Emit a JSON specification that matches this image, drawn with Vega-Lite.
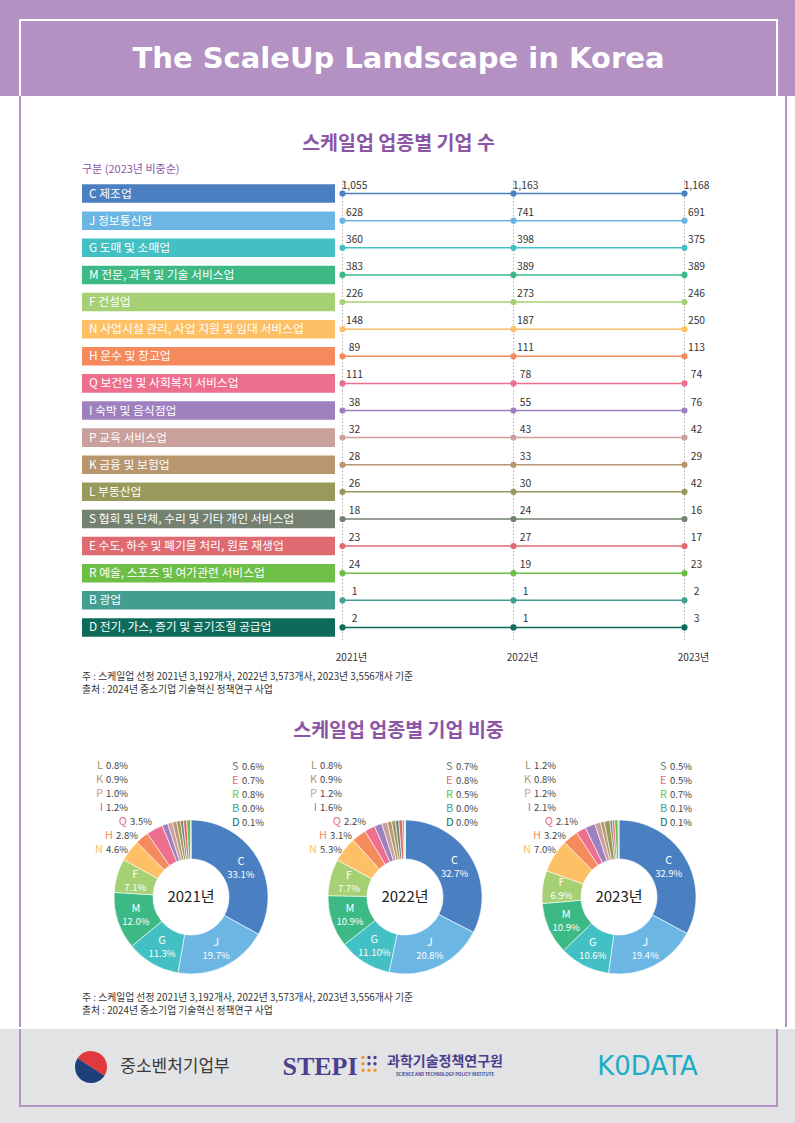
{
"$schema":"https://vega.github.io/schema/vega-lite/v6.json",
"padding":0,
"background":"#ffffff",
"spacing":0,
"resolve":{"scale":{"theta":"independent"}},
"config":{"view":{"stroke":null},"concat":{"spacing":0},"font":"Noto Sans CJK KR"},
"datasets":{
"ind":[
{"code":"C","label":"C 제조업"},
{"code":"J","label":"J 정보통신업"},
{"code":"G","label":"G 도매 및 소매업"},
{"code":"M","label":"M 전문, 과학 및 기술 서비스업"},
{"code":"F","label":"F 건설업"},
{"code":"N","label":"N 사업시설 관리, 사업 지원 및 임대 서비스업"},
{"code":"H","label":"H 운수 및 창고업"},
{"code":"Q","label":"Q 보건업 및 사회복지 서비스업"},
{"code":"I","label":"I 숙박 및 음식점업"},
{"code":"P","label":"P 교육 서비스업"},
{"code":"K","label":"K 금융 및 보험업"},
{"code":"L","label":"L 부동산업"},
{"code":"S","label":"S 협회 및 단체, 수리 및 기타 개인 서비스업"},
{"code":"E","label":"E 수도, 하수 및 폐기물 처리, 원료 재생업"},
{"code":"R","label":"R 예술, 스포츠 및 여가관련 서비스업"},
{"code":"B","label":"B 광업"},
{"code":"D","label":"D 전기, 가스, 증기 및 공기조절 공급업"}
],
"counts":[
{"code":"C","year":"2021년","value":1055},{"code":"C","year":"2022년","value":1163},{"code":"C","year":"2023년","value":1168},
{"code":"J","year":"2021년","value":628},{"code":"J","year":"2022년","value":741},{"code":"J","year":"2023년","value":691},
{"code":"G","year":"2021년","value":360},{"code":"G","year":"2022년","value":398},{"code":"G","year":"2023년","value":375},
{"code":"M","year":"2021년","value":383},{"code":"M","year":"2022년","value":389},{"code":"M","year":"2023년","value":389},
{"code":"F","year":"2021년","value":226},{"code":"F","year":"2022년","value":273},{"code":"F","year":"2023년","value":246},
{"code":"N","year":"2021년","value":148},{"code":"N","year":"2022년","value":187},{"code":"N","year":"2023년","value":250},
{"code":"H","year":"2021년","value":89},{"code":"H","year":"2022년","value":111},{"code":"H","year":"2023년","value":113},
{"code":"Q","year":"2021년","value":111},{"code":"Q","year":"2022년","value":78},{"code":"Q","year":"2023년","value":74},
{"code":"I","year":"2021년","value":38},{"code":"I","year":"2022년","value":55},{"code":"I","year":"2023년","value":76},
{"code":"P","year":"2021년","value":32},{"code":"P","year":"2022년","value":43},{"code":"P","year":"2023년","value":42},
{"code":"K","year":"2021년","value":28},{"code":"K","year":"2022년","value":33},{"code":"K","year":"2023년","value":29},
{"code":"L","year":"2021년","value":26},{"code":"L","year":"2022년","value":30},{"code":"L","year":"2023년","value":42},
{"code":"S","year":"2021년","value":18},{"code":"S","year":"2022년","value":24},{"code":"S","year":"2023년","value":16},
{"code":"E","year":"2021년","value":23},{"code":"E","year":"2022년","value":27},{"code":"E","year":"2023년","value":17},
{"code":"R","year":"2021년","value":24},{"code":"R","year":"2022년","value":19},{"code":"R","year":"2023년","value":23},
{"code":"B","year":"2021년","value":1},{"code":"B","year":"2022년","value":1},{"code":"B","year":"2023년","value":2},
{"code":"D","year":"2021년","value":2},{"code":"D","year":"2022년","value":1},{"code":"D","year":"2023년","value":3}
],
"share":[
{"year":"2021년","code":"C","rank":1,"pct":33.1,"t":"33.1%"},{"year":"2021년","code":"J","rank":2,"pct":19.7,"t":"19.7%"},{"year":"2021년","code":"G","rank":3,"pct":11.3,"t":"11.3%"},{"year":"2021년","code":"M","rank":4,"pct":12.0,"t":"12.0%"},{"year":"2021년","code":"F","rank":5,"pct":7.1,"t":"7.1%"},{"year":"2021년","code":"N","rank":6,"pct":4.6,"t":"4.6%"},{"year":"2021년","code":"H","rank":7,"pct":2.8,"t":"2.8%"},{"year":"2021년","code":"Q","rank":8,"pct":3.5,"t":"3.5%"},{"year":"2021년","code":"I","rank":9,"pct":1.2,"t":"1.2%"},{"year":"2021년","code":"P","rank":10,"pct":1.0,"t":"1.0%"},{"year":"2021년","code":"K","rank":11,"pct":0.9,"t":"0.9%"},{"year":"2021년","code":"L","rank":12,"pct":0.8,"t":"0.8%"},{"year":"2021년","code":"S","rank":13,"pct":0.6,"t":"0.6%"},{"year":"2021년","code":"E","rank":14,"pct":0.7,"t":"0.7%"},{"year":"2021년","code":"R","rank":15,"pct":0.8,"t":"0.8%"},{"year":"2021년","code":"B","rank":16,"pct":0.0,"t":"0.0%"},{"year":"2021년","code":"D","rank":17,"pct":0.1,"t":"0.1%"},
{"year":"2022년","code":"C","rank":1,"pct":32.7,"t":"32.7%"},{"year":"2022년","code":"J","rank":2,"pct":20.8,"t":"20.8%"},{"year":"2022년","code":"G","rank":3,"pct":11.1,"t":"11.10%"},{"year":"2022년","code":"M","rank":4,"pct":10.9,"t":"10.9%"},{"year":"2022년","code":"F","rank":5,"pct":7.7,"t":"7.7%"},{"year":"2022년","code":"N","rank":6,"pct":5.3,"t":"5.3%"},{"year":"2022년","code":"H","rank":7,"pct":3.1,"t":"3.1%"},{"year":"2022년","code":"Q","rank":8,"pct":2.2,"t":"2.2%"},{"year":"2022년","code":"I","rank":9,"pct":1.6,"t":"1.6%"},{"year":"2022년","code":"P","rank":10,"pct":1.2,"t":"1.2%"},{"year":"2022년","code":"K","rank":11,"pct":0.9,"t":"0.9%"},{"year":"2022년","code":"L","rank":12,"pct":0.8,"t":"0.8%"},{"year":"2022년","code":"S","rank":13,"pct":0.7,"t":"0.7%"},{"year":"2022년","code":"E","rank":14,"pct":0.8,"t":"0.8%"},{"year":"2022년","code":"R","rank":15,"pct":0.5,"t":"0.5%"},{"year":"2022년","code":"B","rank":16,"pct":0.0,"t":"0.0%"},{"year":"2022년","code":"D","rank":17,"pct":0.0,"t":"0.0%"},
{"year":"2023년","code":"C","rank":1,"pct":32.9,"t":"32.9%"},{"year":"2023년","code":"J","rank":2,"pct":19.4,"t":"19.4%"},{"year":"2023년","code":"G","rank":3,"pct":10.6,"t":"10.6%"},{"year":"2023년","code":"M","rank":4,"pct":10.9,"t":"10.9%"},{"year":"2023년","code":"F","rank":5,"pct":6.9,"t":"6.9%"},{"year":"2023년","code":"N","rank":6,"pct":7.0,"t":"7.0%"},{"year":"2023년","code":"H","rank":7,"pct":3.2,"t":"3.2%"},{"year":"2023년","code":"Q","rank":8,"pct":2.1,"t":"2.1%"},{"year":"2023년","code":"I","rank":9,"pct":2.1,"t":"2.1%"},{"year":"2023년","code":"P","rank":10,"pct":1.2,"t":"1.2%"},{"year":"2023년","code":"K","rank":11,"pct":0.8,"t":"0.8%"},{"year":"2023년","code":"L","rank":12,"pct":1.2,"t":"1.2%"},{"year":"2023년","code":"S","rank":13,"pct":0.5,"t":"0.5%"},{"year":"2023년","code":"E","rank":14,"pct":0.5,"t":"0.5%"},{"year":"2023년","code":"R","rank":15,"pct":0.7,"t":"0.7%"},{"year":"2023년","code":"B","rank":16,"pct":0.1,"t":"0.1%"},{"year":"2023년","code":"D","rank":17,"pct":0.1,"t":"0.1%"}
],
"notes":[{"lines":["주 : 스케일업 선정 2021년 3,192개사, 2022년 3,573개사, 2023년 3,556개사 기준","출처 : 2024년 중소기업 기술혁신 정책연구 사업"]}]
},
"vconcat":[
{"width":795,"height":19,"data":{"values":[]},"mark":"point","view":{"fill":"#b491c3"}},
{"spacing":0,"hconcat":[
 {"width":19,"height":2,"data":{"values":[]},"mark":"point","view":{"fill":"#b491c3"}},
 {"width":759,"height":2,"data":{"values":[]},"mark":"point","view":{"fill":"#ffffff"}},
 {"width":17,"height":2,"data":{"values":[]},"mark":"point","view":{"fill":"#b491c3"}}
]},
{"spacing":0,"hconcat":[
 {"width":19,"height":75,"data":{"values":[]},"mark":"point","view":{"fill":"#b491c3"}},
 {"width":2,"height":75,"data":{"values":[]},"mark":"point","view":{"fill":"#ffffff"}},
 {"width":755,"height":75,"view":{"fill":"#b491c3"},"data":{"values":[{"t":"The ScaleUp Landscape in Korea"}]},
  "mark":{"type":"text","font":"DejaVu Sans","fontSize":29,"fontWeight":"bold","color":"#ffffff"},
  "encoding":{"text":{"field":"t"}}},
 {"width":2,"height":75,"data":{"values":[]},"mark":"point","view":{"fill":"#ffffff"}},
 {"width":17,"height":75,"data":{"values":[]},"mark":"point","view":{"fill":"#b491c3"}}
]},
{"spacing":0,"hconcat":[
 {"width":19,"height":931,"data":{"values":[]},"mark":"point"},
 {"width":2,"height":931,"data":{"values":[]},"mark":"point","view":{"fill":"#b491c3"}},
 {"spacing":0,"vconcat":[
  {"width":755,"height":32,"data":{"values":[]},"mark":"point"},
  {"width":755,"height":32,"data":{"values":[{"t":"스케일업 업종별 기업 수"}]},
   "mark":{"type":"text","fontSize":19.5,"fontWeight":"bold","color":"#8c55a6"},
   "encoding":{"text":{"field":"t"}}},
  {"spacing":0,"hconcat":[
   {"width":61,"height":19,"data":{"values":[]},"mark":"point"},
   {"width":694,"height":19,"data":{"values":[{"t":"구분 (2023년 비중순)"}]},
    "mark":{"type":"text","align":"left","fontSize":11,"color":"#8c55a6"},
    "encoding":{"text":{"field":"t"},"x":{"datum":0,"type":"quantitative","scale":{"domain":[0,1]},"axis":null}}}
  ]},
  {"spacing":0,"hconcat":[
   {"width":61,"height":461,"data":{"values":[]},"mark":"point"},
   {"width":253,"height":461,"data":{"name":"ind"},
    "encoding":{
     "y":{"field":"code","type":"nominal","sort":["C","J","G","M","F","N","H","Q","I","P","K","L","S","E","R","B","D"],"scale":{"paddingInner":0.317,"paddingOuter":0.1585,"round":false},"axis":null},
     "x":{"datum":0,"type":"quantitative","scale":{"domain":[0,1]},"axis":null}},
    "layer":[
     {"mark":{"type":"rect"},"encoding":{"x2":{"datum":1},
       "color":{"field":"code","type":"nominal","scale":{"domain":["C","J","G","M","F","N","H","Q","I","P","K","L","S","E","R","B","D"],"range":["#4a7fc1","#6cb6e4","#42c0c3","#3cb985","#a5d174","#fdc066","#f58a5c","#ee6e8e","#9d80bd","#c9a09b","#b8966e","#989a5b","#748070","#e06a72","#6dbf46","#439e8f","#0e6b5a"]},"legend":null}}},
     {"mark":{"type":"text","align":"left","dx":7,"fontSize":11.8,"color":"#ffffff"},"encoding":{"text":{"field":"label"}}}
    ]},
   {"width":385,"height":461,"data":{"name":"counts"},
    "layer":[
     {"transform":[{"aggregate":[{"op":"count","as":"n"}],"groupby":["year"]}],
      "mark":{"type":"rule","strokeDash":[1.5,2],"color":"#b0b0b0","strokeWidth":1},
      "encoding":{"x":{"field":"year","type":"ordinal","scale":{"type":"point","padding":0.1257,"align":0.1744,"round":false},"axis":null}}},
     {"mark":{"type":"line","strokeWidth":1.5},
      "encoding":{"x":{"field":"year","type":"ordinal","axis":null},
       "y":{"field":"code","type":"nominal","sort":["C","J","G","M","F","N","H","Q","I","P","K","L","S","E","R","B","D"],"scale":{"type":"point","padding":0.5,"round":false},"axis":null},
       "color":{"field":"code","type":"nominal","scale":{"domain":["C","J","G","M","F","N","H","Q","I","P","K","L","S","E","R","B","D"],"range":["#4a7fc1","#6cb6e4","#42c0c3","#3cb985","#a5d174","#fdc066","#f58a5c","#ee6e8e","#9d80bd","#c9a09b","#b8966e","#989a5b","#748070","#e06a72","#6dbf46","#439e8f","#0e6b5a"]},"legend":null}}},
     {"mark":{"type":"point","filled":true,"size":38,"opacity":1},
      "encoding":{"x":{"field":"year","type":"ordinal","axis":null},
       "y":{"field":"code","type":"nominal","sort":["C","J","G","M","F","N","H","Q","I","P","K","L","S","E","R","B","D"],"axis":null},
       "color":{"field":"code","type":"nominal","legend":null}}},
     {"mark":{"type":"text","dx":12,"dy":-8,"fontSize":10.3,"color":"#333333"},
      "encoding":{"x":{"field":"year","type":"ordinal","axis":null},
       "y":{"field":"code","type":"nominal","sort":["C","J","G","M","F","N","H","Q","I","P","K","L","S","E","R","B","D"],"axis":null},
       "text":{"field":"value","type":"quantitative","format":","}}}
    ]},
   {"width":56,"height":461,"data":{"values":[]},"mark":"point"}
  ]},
  {"spacing":0,"hconcat":[
   {"width":314,"height":28,"data":{"values":[]},"mark":"point"},
   {"width":385,"height":28,"data":{"name":"counts"},
    "transform":[{"aggregate":[{"op":"count","as":"n"}],"groupby":["year"]}],
    "mark":{"type":"text","fontSize":10,"color":"#333333","dy":2},
    "encoding":{"x":{"field":"year","type":"ordinal","scale":{"type":"point","padding":0.1257,"align":0.1744,"round":false},"axis":null},"text":{"field":"year"}}},
   {"width":56,"height":28,"data":{"values":[]},"mark":"point"}
  ]},
  {"spacing":0,"hconcat":[
   {"width":61,"height":32,"data":{"values":[]},"mark":"point"},
   {"width":694,"height":32,"data":{"name":"notes"},
    "mark":{"type":"text","align":"left","baseline":"top","fontSize":9.8,"lineHeight":12.5,"color":"#333333","dy":2},
    "encoding":{"text":{"field":"lines"},
     "x":{"datum":0,"type":"quantitative","scale":{"domain":[0,1]},"axis":null},
     "y":{"datum":1,"type":"quantitative","scale":{"domain":[0,1]},"axis":null}}}
  ]},
  {"width":755,"height":54,"data":{"values":[{"t":"스케일업 업종별 기업 비중"}]},
   "mark":{"type":"text","fontSize":19.5,"fontWeight":"bold","color":"#8c55a6","dy":2},
   "encoding":{"text":{"field":"t"}}},
  {"spacing":0,"resolve":{"scale":{"theta":"independent"}},"hconcat":[
   {"width":63,"height":236,"data":{"values":[]},"mark":"point"},
   {"width":214,"height":236,"data":{"name":"share"},
    "transform":[{"filter":{"field":"year","equal":"2021년"}}],
    "resolve":{"scale":{"y":"independent"}},
    "layer":[
     {"mark":{"type":"arc","outerRadius":77,"innerRadius":38,"stroke":"#ffffff","strokeWidth":0.6},
      "encoding":{"theta":{"field":"pct","type":"quantitative","stack":true},"order":{"field":"rank","type":"quantitative"},
       "color":{"field":"code","type":"nominal","legend":null},
       "y":{"datum":0,"type":"quantitative","scale":{"domain":[-95,141]},"axis":null}}},
     {"mark":{"type":"text","radius":58,"dy":-6,"fontSize":11,"color":"#ffffff"},
      "encoding":{"theta":{"field":"pct","type":"quantitative","stack":true},"order":{"field":"rank","type":"quantitative"},
       "y":{"datum":0,"type":"quantitative","scale":{"domain":[-95,141]},"axis":null},"text":{"field":"code"},
       "opacity":{"condition":{"test":"indexof(['C','J','G','M','F'], datum.code) >= 0","value":1},"value":0}}},
     {"mark":{"type":"text","radius":58,"dy":7,"fontSize":9.5,"color":"#ffffff"},
      "encoding":{"theta":{"field":"pct","type":"quantitative","stack":true},"order":{"field":"rank","type":"quantitative"},
       "y":{"datum":0,"type":"quantitative","scale":{"domain":[-95,141]},"axis":null},"text":{"field":"t"},
       "opacity":{"condition":{"test":"indexof(['C','J','G','M','F'], datum.code) >= 0","value":1},"value":0}}},
     {"transform":[{"filter":{"field":"code","equal":"C"}}],"mark":{"type":"text","fontSize":15,"color":"#222222"},
      "encoding":{"y":{"datum":0,"type":"quantitative","scale":{"domain":[-95,141]},"axis":null},"text":{"field":"year"}}},
     {"transform":[{"filter":{"field":"code","oneOf":["L","K","P","I","N"]}}],"mark":{"type":"text","align":"right","dx":-88,"fontSize":11},
      "encoding":{"y":{"field":"code","type":"nominal","scale":{"type":"point","domain":["L","K","P","I","Q","H","N","C","J","G","M","F","S","E","R","B","D"],"padding":0.4,"align":0.893,"round":false},"axis":null},"text":{"field":"code"},"color":{"field":"code","type":"nominal","legend":null}}},
     {"transform":[{"filter":{"field":"code","oneOf":["L","K","P","I","N"]}}],"mark":{"type":"text","align":"right","dx":-63,"fontSize":9.5,"color":"#444444"},
      "encoding":{"y":{"field":"code","type":"nominal","scale":{"type":"point","domain":["L","K","P","I","Q","H","N","C","J","G","M","F","S","E","R","B","D"],"padding":0.4,"align":0.893,"round":false},"axis":null},"text":{"field":"t"}}},
     {"transform":[{"filter":{"field":"code","equal":"Q"}}],"mark":{"type":"text","align":"right","dx":-64,"fontSize":11},
      "encoding":{"y":{"field":"code","type":"nominal","scale":{"type":"point","domain":["L","K","P","I","Q","H","N","C","J","G","M","F","S","E","R","B","D"],"padding":0.4,"align":0.893,"round":false},"axis":null},"text":{"field":"code"},"color":{"field":"code","type":"nominal","legend":null}}},
     {"transform":[{"filter":{"field":"code","equal":"Q"}}],"mark":{"type":"text","align":"right","dx":-39,"fontSize":9.5,"color":"#444444"},
      "encoding":{"y":{"field":"code","type":"nominal","scale":{"type":"point","domain":["L","K","P","I","Q","H","N","C","J","G","M","F","S","E","R","B","D"],"padding":0.4,"align":0.893,"round":false},"axis":null},"text":{"field":"t"}}},
     {"transform":[{"filter":{"field":"code","equal":"H"}}],"mark":{"type":"text","align":"right","dx":-78,"fontSize":11},
      "encoding":{"y":{"field":"code","type":"nominal","scale":{"type":"point","domain":["L","K","P","I","Q","H","N","C","J","G","M","F","S","E","R","B","D"],"padding":0.4,"align":0.893,"round":false},"axis":null},"text":{"field":"code"},"color":{"field":"code","type":"nominal","legend":null}}},
     {"transform":[{"filter":{"field":"code","equal":"H"}}],"mark":{"type":"text","align":"right","dx":-53,"fontSize":9.5,"color":"#444444"},
      "encoding":{"y":{"field":"code","type":"nominal","scale":{"type":"point","domain":["L","K","P","I","Q","H","N","C","J","G","M","F","S","E","R","B","D"],"padding":0.4,"align":0.893,"round":false},"axis":null},"text":{"field":"t"}}},
     {"transform":[{"filter":{"field":"code","oneOf":["S","E","R","B","D"]}}],"mark":{"type":"text","align":"left","dx":41,"fontSize":11},
      "encoding":{"y":{"field":"code","type":"nominal","scale":{"type":"point","domain":["S","E","R","B","D","C","J","G","M","F","N","H","Q","I","P","K","L"],"padding":0.4,"align":1,"round":false},"axis":null},"text":{"field":"code"},"color":{"field":"code","type":"nominal","legend":null}}},
     {"transform":[{"filter":{"field":"code","oneOf":["S","E","R","B","D"]}}],"mark":{"type":"text","align":"left","dx":51,"fontSize":9.5,"color":"#444444"},
      "encoding":{"y":{"field":"code","type":"nominal","scale":{"type":"point","domain":["S","E","R","B","D","C","J","G","M","F","N","H","Q","I","P","K","L"],"padding":0.4,"align":1,"round":false},"axis":null},"text":{"field":"t"}}}
    ]},
   {"width":214,"height":236,"data":{"name":"share"},
    "transform":[{"filter":{"field":"year","equal":"2022년"}}],
    "resolve":{"scale":{"y":"independent"}},
    "layer":[
     {"mark":{"type":"arc","outerRadius":77,"innerRadius":38,"stroke":"#ffffff","strokeWidth":0.6},
      "encoding":{"theta":{"field":"pct","type":"quantitative","stack":true},"order":{"field":"rank","type":"quantitative"},
       "color":{"field":"code","type":"nominal","legend":null},
       "y":{"datum":0,"type":"quantitative","scale":{"domain":[-95,141]},"axis":null}}},
     {"mark":{"type":"text","radius":58,"dy":-6,"fontSize":11,"color":"#ffffff"},
      "encoding":{"theta":{"field":"pct","type":"quantitative","stack":true},"order":{"field":"rank","type":"quantitative"},
       "y":{"datum":0,"type":"quantitative","scale":{"domain":[-95,141]},"axis":null},"text":{"field":"code"},
       "opacity":{"condition":{"test":"indexof(['C','J','G','M','F'], datum.code) >= 0","value":1},"value":0}}},
     {"mark":{"type":"text","radius":58,"dy":7,"fontSize":9.5,"color":"#ffffff"},
      "encoding":{"theta":{"field":"pct","type":"quantitative","stack":true},"order":{"field":"rank","type":"quantitative"},
       "y":{"datum":0,"type":"quantitative","scale":{"domain":[-95,141]},"axis":null},"text":{"field":"t"},
       "opacity":{"condition":{"test":"indexof(['C','J','G','M','F'], datum.code) >= 0","value":1},"value":0}}},
     {"transform":[{"filter":{"field":"code","equal":"C"}}],"mark":{"type":"text","fontSize":15,"color":"#222222"},
      "encoding":{"y":{"datum":0,"type":"quantitative","scale":{"domain":[-95,141]},"axis":null},"text":{"field":"year"}}},
     {"transform":[{"filter":{"field":"code","oneOf":["L","K","P","I","N"]}}],"mark":{"type":"text","align":"right","dx":-88,"fontSize":11},
      "encoding":{"y":{"field":"code","type":"nominal","scale":{"type":"point","domain":["L","K","P","I","Q","H","N","C","J","G","M","F","S","E","R","B","D"],"padding":0.4,"align":0.893,"round":false},"axis":null},"text":{"field":"code"},"color":{"field":"code","type":"nominal","legend":null}}},
     {"transform":[{"filter":{"field":"code","oneOf":["L","K","P","I","N"]}}],"mark":{"type":"text","align":"right","dx":-63,"fontSize":9.5,"color":"#444444"},
      "encoding":{"y":{"field":"code","type":"nominal","scale":{"type":"point","domain":["L","K","P","I","Q","H","N","C","J","G","M","F","S","E","R","B","D"],"padding":0.4,"align":0.893,"round":false},"axis":null},"text":{"field":"t"}}},
     {"transform":[{"filter":{"field":"code","equal":"Q"}}],"mark":{"type":"text","align":"right","dx":-64,"fontSize":11},
      "encoding":{"y":{"field":"code","type":"nominal","scale":{"type":"point","domain":["L","K","P","I","Q","H","N","C","J","G","M","F","S","E","R","B","D"],"padding":0.4,"align":0.893,"round":false},"axis":null},"text":{"field":"code"},"color":{"field":"code","type":"nominal","legend":null}}},
     {"transform":[{"filter":{"field":"code","equal":"Q"}}],"mark":{"type":"text","align":"right","dx":-39,"fontSize":9.5,"color":"#444444"},
      "encoding":{"y":{"field":"code","type":"nominal","scale":{"type":"point","domain":["L","K","P","I","Q","H","N","C","J","G","M","F","S","E","R","B","D"],"padding":0.4,"align":0.893,"round":false},"axis":null},"text":{"field":"t"}}},
     {"transform":[{"filter":{"field":"code","equal":"H"}}],"mark":{"type":"text","align":"right","dx":-78,"fontSize":11},
      "encoding":{"y":{"field":"code","type":"nominal","scale":{"type":"point","domain":["L","K","P","I","Q","H","N","C","J","G","M","F","S","E","R","B","D"],"padding":0.4,"align":0.893,"round":false},"axis":null},"text":{"field":"code"},"color":{"field":"code","type":"nominal","legend":null}}},
     {"transform":[{"filter":{"field":"code","equal":"H"}}],"mark":{"type":"text","align":"right","dx":-53,"fontSize":9.5,"color":"#444444"},
      "encoding":{"y":{"field":"code","type":"nominal","scale":{"type":"point","domain":["L","K","P","I","Q","H","N","C","J","G","M","F","S","E","R","B","D"],"padding":0.4,"align":0.893,"round":false},"axis":null},"text":{"field":"t"}}},
     {"transform":[{"filter":{"field":"code","oneOf":["S","E","R","B","D"]}}],"mark":{"type":"text","align":"left","dx":41,"fontSize":11},
      "encoding":{"y":{"field":"code","type":"nominal","scale":{"type":"point","domain":["S","E","R","B","D","C","J","G","M","F","N","H","Q","I","P","K","L"],"padding":0.4,"align":1,"round":false},"axis":null},"text":{"field":"code"},"color":{"field":"code","type":"nominal","legend":null}}},
     {"transform":[{"filter":{"field":"code","oneOf":["S","E","R","B","D"]}}],"mark":{"type":"text","align":"left","dx":51,"fontSize":9.5,"color":"#444444"},
      "encoding":{"y":{"field":"code","type":"nominal","scale":{"type":"point","domain":["S","E","R","B","D","C","J","G","M","F","N","H","Q","I","P","K","L"],"padding":0.4,"align":1,"round":false},"axis":null},"text":{"field":"t"}}}
    ]},
   {"width":214,"height":236,"data":{"name":"share"},
    "transform":[{"filter":{"field":"year","equal":"2023년"}}],
    "resolve":{"scale":{"y":"independent"}},
    "layer":[
     {"mark":{"type":"arc","outerRadius":77,"innerRadius":38,"stroke":"#ffffff","strokeWidth":0.6},
      "encoding":{"theta":{"field":"pct","type":"quantitative","stack":true},"order":{"field":"rank","type":"quantitative"},
       "color":{"field":"code","type":"nominal","legend":null},
       "y":{"datum":0,"type":"quantitative","scale":{"domain":[-95,141]},"axis":null}}},
     {"mark":{"type":"text","radius":58,"dy":-6,"fontSize":11,"color":"#ffffff"},
      "encoding":{"theta":{"field":"pct","type":"quantitative","stack":true},"order":{"field":"rank","type":"quantitative"},
       "y":{"datum":0,"type":"quantitative","scale":{"domain":[-95,141]},"axis":null},"text":{"field":"code"},
       "opacity":{"condition":{"test":"indexof(['C','J','G','M','F'], datum.code) >= 0","value":1},"value":0}}},
     {"mark":{"type":"text","radius":58,"dy":7,"fontSize":9.5,"color":"#ffffff"},
      "encoding":{"theta":{"field":"pct","type":"quantitative","stack":true},"order":{"field":"rank","type":"quantitative"},
       "y":{"datum":0,"type":"quantitative","scale":{"domain":[-95,141]},"axis":null},"text":{"field":"t"},
       "opacity":{"condition":{"test":"indexof(['C','J','G','M','F'], datum.code) >= 0","value":1},"value":0}}},
     {"transform":[{"filter":{"field":"code","equal":"C"}}],"mark":{"type":"text","fontSize":15,"color":"#222222"},
      "encoding":{"y":{"datum":0,"type":"quantitative","scale":{"domain":[-95,141]},"axis":null},"text":{"field":"year"}}},
     {"transform":[{"filter":{"field":"code","oneOf":["L","K","P","I","N"]}}],"mark":{"type":"text","align":"right","dx":-88,"fontSize":11},
      "encoding":{"y":{"field":"code","type":"nominal","scale":{"type":"point","domain":["L","K","P","I","Q","H","N","C","J","G","M","F","S","E","R","B","D"],"padding":0.4,"align":0.893,"round":false},"axis":null},"text":{"field":"code"},"color":{"field":"code","type":"nominal","legend":null}}},
     {"transform":[{"filter":{"field":"code","oneOf":["L","K","P","I","N"]}}],"mark":{"type":"text","align":"right","dx":-63,"fontSize":9.5,"color":"#444444"},
      "encoding":{"y":{"field":"code","type":"nominal","scale":{"type":"point","domain":["L","K","P","I","Q","H","N","C","J","G","M","F","S","E","R","B","D"],"padding":0.4,"align":0.893,"round":false},"axis":null},"text":{"field":"t"}}},
     {"transform":[{"filter":{"field":"code","equal":"Q"}}],"mark":{"type":"text","align":"right","dx":-66,"fontSize":11},
      "encoding":{"y":{"field":"code","type":"nominal","scale":{"type":"point","domain":["L","K","P","I","Q","H","N","C","J","G","M","F","S","E","R","B","D"],"padding":0.4,"align":0.893,"round":false},"axis":null},"text":{"field":"code"},"color":{"field":"code","type":"nominal","legend":null}}},
     {"transform":[{"filter":{"field":"code","equal":"Q"}}],"mark":{"type":"text","align":"right","dx":-41,"fontSize":9.5,"color":"#444444"},
      "encoding":{"y":{"field":"code","type":"nominal","scale":{"type":"point","domain":["L","K","P","I","Q","H","N","C","J","G","M","F","S","E","R","B","D"],"padding":0.4,"align":0.893,"round":false},"axis":null},"text":{"field":"t"}}},
     {"transform":[{"filter":{"field":"code","equal":"H"}}],"mark":{"type":"text","align":"right","dx":-78,"fontSize":11},
      "encoding":{"y":{"field":"code","type":"nominal","scale":{"type":"point","domain":["L","K","P","I","Q","H","N","C","J","G","M","F","S","E","R","B","D"],"padding":0.4,"align":0.893,"round":false},"axis":null},"text":{"field":"code"},"color":{"field":"code","type":"nominal","legend":null}}},
     {"transform":[{"filter":{"field":"code","equal":"H"}}],"mark":{"type":"text","align":"right","dx":-53,"fontSize":9.5,"color":"#444444"},
      "encoding":{"y":{"field":"code","type":"nominal","scale":{"type":"point","domain":["L","K","P","I","Q","H","N","C","J","G","M","F","S","E","R","B","D"],"padding":0.4,"align":0.893,"round":false},"axis":null},"text":{"field":"t"}}},
     {"transform":[{"filter":{"field":"code","oneOf":["S","E","R","B","D"]}}],"mark":{"type":"text","align":"left","dx":41,"fontSize":11},
      "encoding":{"y":{"field":"code","type":"nominal","scale":{"type":"point","domain":["S","E","R","B","D","C","J","G","M","F","N","H","Q","I","P","K","L"],"padding":0.4,"align":1,"round":false},"axis":null},"text":{"field":"code"},"color":{"field":"code","type":"nominal","legend":null}}},
     {"transform":[{"filter":{"field":"code","oneOf":["S","E","R","B","D"]}}],"mark":{"type":"text","align":"left","dx":51,"fontSize":9.5,"color":"#444444"},
      "encoding":{"y":{"field":"code","type":"nominal","scale":{"type":"point","domain":["S","E","R","B","D","C","J","G","M","F","N","H","Q","I","P","K","L"],"padding":0.4,"align":1,"round":false},"axis":null},"text":{"field":"t"}}}
    ]},
   {"width":50,"height":236,"data":{"values":[]},"mark":"point"}
  ]},
  {"spacing":0,"hconcat":[
   {"width":61,"height":37,"data":{"values":[]},"mark":"point"},
   {"width":694,"height":37,"data":{"name":"notes"},
    "mark":{"type":"text","align":"left","baseline":"top","fontSize":9.8,"lineHeight":12.5,"color":"#333333","dy":1},
    "encoding":{"text":{"field":"lines"},
     "x":{"datum":0,"type":"quantitative","scale":{"domain":[0,1]},"axis":null},
     "y":{"datum":1,"type":"quantitative","scale":{"domain":[0,1]},"axis":null}}}
  ]}
 ]},
 {"width":2,"height":931,"data":{"values":[]},"mark":"point","view":{"fill":"#b491c3"}},
 {"width":17,"height":931,"data":{"values":[]},"mark":"point"}
]},
{"spacing":0,"hconcat":[
 {"width":19,"height":76,"data":{"values":[]},"mark":"point","view":{"fill":"#e2e3e5"}},
 {"width":2,"height":76,"data":{"values":[]},"mark":"point","view":{"fill":"#b491c3"}},
 {"spacing":0,"hconcat":[
  {"width":53,"height":76,"data":{"values":[]},"mark":"point","view":{"fill":"#e2e3e5"}},
  {"width":34,"height":76,"view":{"fill":"#e2e3e5"},"data":{"values":[{"part":"a","v":1},{"part":"b","v":1}]},
   "mark":{"type":"arc","outerRadius":16,"thetaOffset":-1.0,"theta2Offset":-1.0},
   "encoding":{"theta":{"field":"v","type":"quantitative","stack":true},"order":{"field":"part"},
    "fill":{"condition":{"test":"datum.part == 'a'","value":"#e03a3e"},"value":"#1d3f7a"}}},
  {"width":6,"height":76,"data":{"values":[]},"mark":"point","view":{"fill":"#e2e3e5"}},
  {"width":122,"height":76,"view":{"fill":"#e2e3e5"},"data":{"values":[{"t":"중소벤처기업부"}]},
   "mark":{"type":"text","fontSize":17,"color":"#3a3a3a"},"encoding":{"text":{"field":"t"}}},
  {"width":46,"height":76,"data":{"values":[]},"mark":"point","view":{"fill":"#e2e3e5"}},
  {"width":76,"height":76,"view":{"fill":"#e2e3e5"},"data":{"values":[{"t":"STEPI"}]},
   "mark":{"type":"text","font":"Liberation Serif","fontWeight":"bold","fontSize":26,"color":"#4b3f8e"},"encoding":{"text":{"field":"t"}}},
  {"width":22,"height":76,"view":{"fill":"#e2e3e5"},
   "data":{"values":[{"c":"1","r":"1","k":"o"},{"c":"2","r":"1","k":"p"},{"c":"3","r":"1","k":"p"},{"c":"1","r":"2","k":"o"},{"c":"2","r":"2","k":"p"},{"c":"3","r":"2","k":"p"},{"c":"1","r":"3","k":"o"},{"c":"2","r":"3","k":"o"},{"c":"3","r":"3","k":"o"}]},
   "mark":{"type":"point","filled":true,"size":12,"opacity":1},
   "encoding":{"x":{"field":"c","type":"nominal","scale":{"type":"point","padding":0.833},"axis":null},
    "y":{"field":"r","type":"nominal","scale":{"type":"point","domain":["4","5","6","7","1","2","3","8","9","10","11","12"],"padding":0.5},"axis":null},
    "color":{"condition":{"test":"datum.k == 'o'","value":"#f39a2b"},"value":"#4b3f8e"}}},
  {"width":130,"height":76,"view":{"fill":"#e2e3e5"},"data":{"values":[{"a":"과학기술정책연구원","b":"SCIENCE AND TECHNOLOGY POLICY INSTITUTE"}]},
   "layer":[
    {"mark":{"type":"text","fontSize":14,"fontWeight":"bold","color":"#4b3f8e","dy":-5},"encoding":{"text":{"field":"a"}}},
    {"mark":{"type":"text","fontSize":4.3,"fontWeight":"bold","color":"#4b3f8e","dy":8},"encoding":{"text":{"field":"b"}}}
   ]},
  {"width":70,"height":76,"data":{"values":[]},"mark":"point","view":{"fill":"#e2e3e5"}},
  {"width":135,"height":76,"view":{"fill":"#e2e3e5"},"data":{"values":[{"t":"K0DATA"}]},
   "mark":{"type":"text","font":"DejaVu Sans","fontSize":26,"color":"#1aadc4"},"encoding":{"text":{"field":"t"}}},
  {"width":61,"height":76,"data":{"values":[]},"mark":"point","view":{"fill":"#e2e3e5"}}
 ]},
 {"width":2,"height":76,"data":{"values":[]},"mark":"point","view":{"fill":"#b491c3"}},
 {"width":17,"height":76,"data":{"values":[]},"mark":"point","view":{"fill":"#e2e3e5"}}
]},
{"spacing":0,"hconcat":[
 {"width":19,"height":2,"data":{"values":[]},"mark":"point","view":{"fill":"#e2e3e5"}},
 {"width":759,"height":2,"data":{"values":[]},"mark":"point","view":{"fill":"#b491c3"}},
 {"width":17,"height":2,"data":{"values":[]},"mark":"point","view":{"fill":"#e2e3e5"}}
]},
{"width":795,"height":18,"data":{"values":[]},"mark":"point","view":{"fill":"#e2e3e5"}}
]
}
